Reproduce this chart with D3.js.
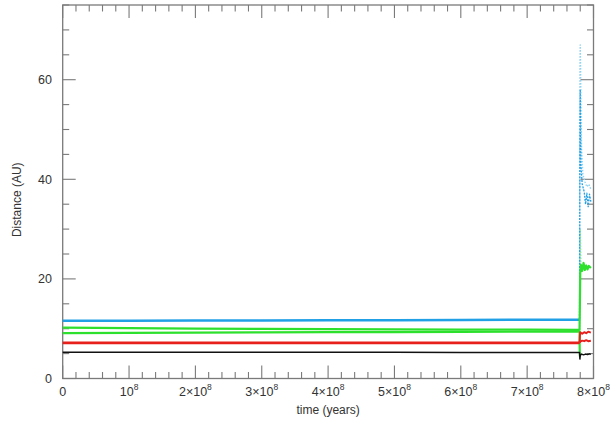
<!DOCTYPE html>
<html><head><meta charset="utf-8">
<script src="https://cdn.jsdelivr.net/npm/d3@7"></script>
<style>
body{margin:0;background:#fff;}
text{font-family:"Liberation Sans",Arial,Helvetica,sans-serif;fill:#333;}
</style></head>
<body><svg id="c" width="610" height="422"></svg>
<script>
// ---- data (time in years, distance in AU) ----
const xTickValues = [0,1e8,2e8,3e8,4e8,5e8,6e8,7e8,8e8];
const xTickMant = ["0","","2","3","4","5","6","7","8"];
const yTickValues = [0,20,40,60];

const blackT = [0,1e8,2e8,3e8,4e8,5e8,6e8,7e8,7.78e8,7.79e8,7.795e8,7.80e8,7.82e8,7.85e8,7.88e8,7.91e8,7.94e8,7.96e8];
const blackV = [5.25,5.25,5.25,5.25,5.25,5.25,5.22,5.22,5.2,5.2,3.9,4.6,4.9,4.75,4.9,4.8,4.95,4.85];

const redT = [0,1e8,2e8,3e8,4e8,5e8,6e8,7e8,7.78e8,7.79e8];
const redV = [7.15,7.15,7.15,7.15,7.15,7.15,7.15,7.15,7.15,7.2];
const redAT = [7.79e8,7.795e8,7.80e8,7.83e8,7.86e8,7.89e8,7.92e8,7.96e8];
const redAV = [7.2,8.6,9.3,9.0,9.3,9.1,9.4,9.2];
const redBT = [7.795e8,7.80e8,7.83e8,7.86e8,7.89e8,7.92e8,7.96e8];
const redBV = [7.2,7.4,7.6,7.5,7.7,7.5,7.6];

const green1T = [0,1e8,2e8,3e8,4e8,5e8,6e8,7e8,7.78e8,7.79e8,7.795e8,7.80e8,7.81e8,7.83e8,7.85e8,7.87e8,7.89e8,7.91e8,7.93e8,7.96e8];
const green1V = [10.2,10.1,10.0,9.95,9.9,9.85,9.8,9.8,9.75,9.8,15,21,22.8,21.6,23.2,21.8,22.7,21.9,22.6,22.2];
const green1QT = [7.79e8,7.795e8,7.80e8,7.805e8,7.81e8];
const green1QV = [9.8,24,30,27,23];
const green2T = [0,1e8,2e8,3e8,4e8,5e8,6e8,7e8,7.78e8,7.79e8,7.792e8,7.795e8];
const green2V = [9.1,9.15,9.2,9.25,9.3,9.3,9.35,9.4,9.4,9.4,6,4.4];

const blueT = [0,1e8,2e8,3e8,4e8,5e8,6e8,7e8,7.78e8,7.79e8];
const blueV = [11.6,11.6,11.65,11.65,11.7,11.7,11.75,11.8,11.8,11.9];
const bluePostT = [7.79e8,7.792e8,7.795e8,7.80e8,7.805e8,7.81e8,7.83e8,7.86e8,7.88e8,7.90e8,7.92e8,7.94e8,7.96e8];
const bluePostV = [11.9,25,47,58,50,43,39,37.5,35,37.2,34.5,37,35.5];
const blueQT = [7.79e8,7.792e8,7.795e8,7.80e8,7.805e8,7.81e8,7.82e8,7.84e8,7.87e8,7.90e8,7.93e8,7.96e8];
const blueQV = [12,40,62,67,63,56,46,41,39.5,38.5,39,38];

// ---- layout ----
const svg = d3.select("#c");
const L=62.7,R=593.5,T=5,B=378.5;
const x = d3.scaleLinear().domain([0,8e8]).range([L,R]);
const y = d3.scaleLinear().domain([0,75]).range([B,T]);
const axisCol="#7a7a7a";

svg.append("rect").attr("x",L).attr("y",T).attr("width",R-L).attr("height",B-T)
  .attr("fill","none").attr("stroke",axisCol).attr("stroke-width",1.3);

const g = svg.append("g").attr("stroke",axisCol).attr("stroke-width",1.1);
d3.range(0,8e8+1,2e7).forEach(v=>{
  const major = Math.abs(v % 1e8) < 1;
  const len = major?13:6.5;
  g.append("line").attr("x1",x(v)).attr("x2",x(v)).attr("y1",B).attr("y2",B-len);
  g.append("line").attr("x1",x(v)).attr("x2",x(v)).attr("y1",T).attr("y2",T+len);
});
d3.range(0,76,5).forEach(v=>{
  const major = v%20===0;
  const len = major?13:6.5;
  g.append("line").attr("y1",y(v)).attr("y2",y(v)).attr("x1",L).attr("x2",L+len);
  g.append("line").attr("y1",y(v)).attr("y2",y(v)).attr("x1",R).attr("x2",R-len);
});

xTickValues.forEach((v,i)=>{
  const t = svg.append("text").attr("x",x(v)).attr("y",396).attr("text-anchor","middle").attr("font-size",12.5);
  if(v===0){ t.text("0"); return; }
  if(xTickMant[i]!=="") t.append("tspan").text(xTickMant[i]+"\u00d7");
  t.append("tspan").text("10");
  t.append("tspan").attr("font-size",8.5).attr("dy",-6).text("8");
});
yTickValues.forEach(v=>{
  svg.append("text").attr("x",52).attr("y",y(v)+4.5).attr("text-anchor","end").attr("font-size",12.5).text(v);
});
svg.append("text").attr("x",(L+R)/2).attr("y",414).attr("text-anchor","middle").attr("font-size",12).text("time (years)");
svg.append("text").attr("transform",`translate(21,${(T+B)/2+8}) rotate(-90)`).attr("text-anchor","middle").attr("font-size",12).text("Distance (AU)");

const line = d3.line().x(d=>x(d[0])).y(d=>y(d[1]));
function draw(ts,vs,col,w,dash){
  const p = svg.append("path").datum(ts.map((t,i)=>[t,vs[i]])).attr("d",line)
    .attr("fill","none").attr("stroke",col).attr("stroke-width",w).attr("stroke-linejoin","round");
  if(dash) p.attr("stroke-dasharray",dash);
}
const BLUE="#22a0e6", LBLUE="#8fd3f2", GREEN="#2ee02e", LGREEN="#9af09a", RED="#e8201c";
draw(blueQT,blueQV,LBLUE,1.4,"1.5,1.5");
draw(green1QT,green1QV,LGREEN,1.4,"1.5,1.5");
draw(bluePostT,bluePostV,BLUE,1.3,"2,1.2");
draw(blueT,blueV,BLUE,2.6);
draw(green1T,green1V,GREEN,2.2);
draw(green2T,green2V,GREEN,2.2);
draw(redT,redV,RED,2.6);
draw(redAT,redAV,RED,2);
draw(redBT,redBV,RED,2);
draw(blackT,blackV,"#111",1.5);
</script></body></html>
